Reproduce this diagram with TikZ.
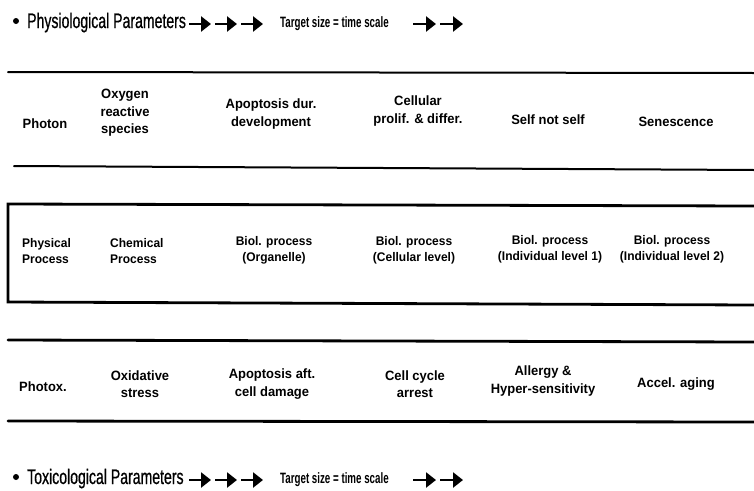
\documentclass[tikz,border=0pt]{standalone}
\usepackage{fontspec}
\setmainfont{Liberation Sans}
\newfontfamily\titlefont[FakeStretch=0.67,FakeBold=0.6]{Liberation Sans}
\newfontfamily\tabfont[FakeStretch=0.96]{Liberation Sans}
\newfontfamily\tgtfont[FakeStretch=0.65]{Liberation Sans}
\usetikzlibrary{arrows.meta}
\begin{document}
\begin{tikzpicture}[x=1pt,y=-1pt,
  rowtxt/.style={font=\tabfont\bfseries\fontsize{13.5}{17.5}\selectfont, align=center, inner sep=0pt},
  midtxt/.style={font=\tabfont\bfseries\fontsize{12.5}{16}\selectfont, align=center, inner sep=0pt},
  thinrule/.style={line width=2pt, line cap=round},
  thickrule/.style={line width=2.8pt, line cap=round},
  bigarrow/.style={line width=2.8pt, -{Triangle[length=10pt,width=15pt]}},
  titletxt/.style={font=\titlefont\fontsize{21}{24}\selectfont, anchor=base west, inner sep=0pt},
  tgttxt/.style={font=\tgtfont\bfseries\fontsize{15}{18}\selectfont, anchor=base west, inner sep=0pt},
  dot/.style={circle, fill=black, minimum size=6pt, inner sep=0pt}]
\useasboundingbox (0,0) rectangle (754,490);

% ---- top title
\node[dot] (b1) at (16,21) {};
\node[titletxt] (t1) at (27,28) {Physiological Parameters};
\coordinate (p1s) at (189,24); \coordinate (p1e) at (211,24);
\coordinate (p2s) at (215,24); \coordinate (p2e) at (237,24);
\coordinate (p3s) at (241,24); \coordinate (p3e) at (263,24);
\draw[bigarrow] (p1s) -- (p1e);
\draw[bigarrow] (p2s) -- (p2e);
\draw[bigarrow] (p3s) -- (p3e);
\node[tgttxt] (g1) at (280,27) {Target size = time scale};
\coordinate (p4s) at (413,24); \coordinate (p4e) at (436,24);
\coordinate (p5s) at (440,24); \coordinate (p5e) at (463,24);
\draw[bigarrow] (p4s) -- (p4e);
\draw[bigarrow] (p5s) -- (p5e);

% ---- row 1
\coordinate (r1a) at (8,72); \coordinate (r1b) at (754,73);
\coordinate (r1c) at (14,166); \coordinate (r1d) at (754,170);
\draw[thinrule] (r1a) -- (r1b);
\draw[thinrule] (r1c) -- (r1d);
\node[rowtxt] (n11) at (45,124) {Photon};
\node[rowtxt] (n12) at (125,113) {Oxygen\\reactive\\species};
\node[rowtxt] (n13) at (271,114) {Apoptosis dur.\\development};
\node[rowtxt] (n14) at (418,111) {Cellular\\prolif. \& differ.};
\node[rowtxt] (n15) at (548,120) {Self not self};
\node[rowtxt] (n16) at (676,122) {Senescence};

% ---- row 2 (box)
\coordinate (bx1) at (754,206); \coordinate (bx2) at (8,204);
\coordinate (bx3) at (8,302); \coordinate (bx4) at (754,305);
\draw[thickrule] (bx1) -- (bx2) -- (bx3) -- (bx4);
\node[midtxt, anchor=west, align=left] (n21) at (22,251) {Physical\\Process};
\node[midtxt, anchor=west, align=left] (n22) at (110,251) {Chemical\\Process};
\node[midtxt] (n23) at (274,250) {Biol. process\\(Organelle)};
\node[midtxt] (n24) at (414,250) {Biol. process\\(Cellular level)};
\node[midtxt] (n25) at (550,249) {Biol. process\\(Individual level 1)};
\node[midtxt] (n26) at (672,249) {Biol. process\\(Individual level 2)};

% ---- row 3
\coordinate (r3a) at (8,340); \coordinate (r3b) at (754,342);
\coordinate (r3c) at (8,421); \coordinate (r3d) at (754,422);
\draw[thickrule] (r3a) -- (r3b);
\draw[thickrule] (r3c) -- (r3d);
\node[rowtxt] (n31) at (43,387) {Photox.};
\node[rowtxt] (n32) at (140,384) {Oxidative\\stress};
\node[rowtxt] (n33) at (272,384) {Apoptosis aft.\\cell damage};
\node[rowtxt] (n34) at (415,384) {Cell cycle\\arrest};
\node[rowtxt] (n35) at (543,381) {Allergy \&\\Hyper-sensitivity};
\node[rowtxt] (n36) at (676,384) {Accel. aging};

% ---- bottom title
\node[dot] (b2) at (16,477) {};
\node[titletxt] (t2) at (27,484) {Toxicological Parameters};
\coordinate (q1s) at (189,480); \coordinate (q1e) at (211,480);
\coordinate (q2s) at (215,480); \coordinate (q2e) at (237,480);
\coordinate (q3s) at (241,480); \coordinate (q3e) at (263,480);
\draw[bigarrow] (q1s) -- (q1e);
\draw[bigarrow] (q2s) -- (q2e);
\draw[bigarrow] (q3s) -- (q3e);
\node[tgttxt] (g2) at (280,483) {Target size = time scale};
\coordinate (q4s) at (413,480); \coordinate (q4e) at (436,480);
\coordinate (q5s) at (440,480); \coordinate (q5e) at (463,480);
\draw[bigarrow] (q4s) -- (q4e);
\draw[bigarrow] (q5s) -- (q5e);
\end{tikzpicture}
\end{document}
